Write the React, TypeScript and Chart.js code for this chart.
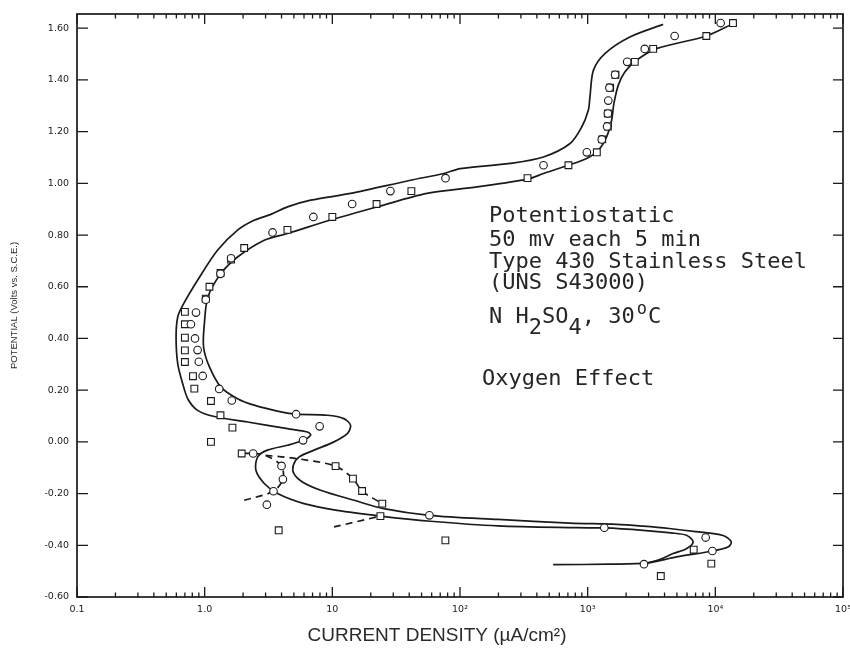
import React, { useEffect, useRef } from 'react';
import { Chart, registerables } from 'chart.js';

Chart.register(...registerables);

// ---------------- DATA (current density µA/cm², potential V vs S.C.E.) ----------------
const CIRCLE_I = [11000, 4800, 2800, 2040, 1640, 1480, 1450, 1440, 1420, 1290, 985, 451, 77, 28.5, 14.3, 7.1, 3.4, 1.61, 1.33, 1.02, 0.855, 0.78, 0.84, 0.88, 0.9, 0.965, 1.3, 1.63, 5.2, 7.95, 5.9, 2.4, 4.0, 4.1, 3.46, 3.07, 57.6, 1350, 8400, 9480, 2760];
const CIRCLE_E = [1.62, 1.57, 1.52, 1.47, 1.42, 1.37, 1.32, 1.27, 1.22, 1.17, 1.12, 1.07, 1.02, 0.97, 0.92, 0.87, 0.81, 0.71, 0.65, 0.55, 0.5, 0.455, 0.4, 0.355, 0.31, 0.255, 0.205, 0.16, 0.107, 0.06, 0.006, -0.045, -0.093, -0.145, -0.191, -0.243, -0.284, -0.332, -0.37, -0.422, -0.473];

const SQUARE_I = [13750, 8500, 3260, 2340, 1650, 1500, 1440, 1440, 1300, 1180, 707, 338, 41.6, 22.2, 10, 4.45, 2.04, 1.61, 1.33, 1.09, 1.02, 0.7, 0.7, 0.7, 0.7, 0.7, 0.81, 0.83, 1.12, 1.33, 1.65, 1.12, 1.95, 10.6, 14.5, 17.1, 24.6, 23.8, 3.8, 76.8, 6770, 9300, 3740];
const SQUARE_E = [1.62, 1.57, 1.52, 1.47, 1.42, 1.37, 1.27, 1.22, 1.17, 1.12, 1.07, 1.02, 0.97, 0.92, 0.87, 0.82, 0.75, 0.705, 0.653, 0.6, 0.554, 0.503, 0.455, 0.403, 0.354, 0.309, 0.254, 0.206, 0.158, 0.103, 0.055, 0.0, -0.045, -0.094, -0.142, -0.19, -0.239, -0.287, -0.342, -0.381, -0.417, -0.471, -0.519];

const CURVE_A_I = [3900, 2140, 1365, 1110, 1042, 1012, 898, 728, 451, 247, 100.5, 74.6, 40.9, 13.9, 6.77, 4.45, 3.3, 2.44, 1.81, 1.26, 0.88, 0.673, 0.615, 0.597, 0.615, 0.673, 0.74, 0.88, 1.19, 2.17, 4.45, 6.38, 6.77, 5.9, 4.45, 3.1, 2.6, 2.52, 2.93, 3.72, 6.0, 10.9, 23.8, 58.6, 198, 820, 1350, 2720, 4500, 5930, 6700, 5930, 4670, 3670, 2980];
const CURVE_A_E = [1.615, 1.566, 1.502, 1.438, 1.334, 1.283, 1.218, 1.154, 1.102, 1.077, 1.057, 1.038, 1.012, 0.961, 0.935, 0.909, 0.88, 0.857, 0.819, 0.741, 0.625, 0.528, 0.483, 0.406, 0.303, 0.225, 0.165, 0.122, 0.098, 0.077, 0.051, 0.038, 0.026, 0.006, -0.013, -0.032, -0.058, -0.11, -0.161, -0.2, -0.239, -0.265, -0.287, -0.307, -0.325, -0.332, -0.333, -0.342, -0.352, -0.361, -0.387, -0.413, -0.432, -0.455, -0.468];

const CURVE_B_I = [14100, 8500, 3460, 2415, 1955, 1738, 1606, 1540, 1407, 1212, 982, 707, 451, 338, 136, 55.2, 22.5, 10, 4.45, 2.93, 1.81, 1.34, 1.06, 0.995, 0.98, 1.09, 1.34, 1.81, 2.44, 3.95, 5.2, 9.14, 12.3, 13.9, 13.1, 10.3, 7.2, 5.5, 4.95, 5.0, 5.83, 8.1, 14.8, 25.3, 57.6, 198, 725, 1687, 2720, 4360, 7000, 11500, 13330, 12560, 9590, 4960, 2980, 1494, 537];
const CURVE_B_E = [1.62, 1.57, 1.521, 1.476, 1.431, 1.38, 1.309, 1.244, 1.18, 1.128, 1.096, 1.07, 1.038, 1.016, 0.986, 0.961, 0.909, 0.86, 0.806, 0.78, 0.715, 0.651, 0.56, 0.458, 0.367, 0.29, 0.212, 0.167, 0.142, 0.116, 0.107, 0.103, 0.09, 0.064, 0.032, 0.0, -0.032, -0.058, -0.09, -0.123, -0.155, -0.187, -0.226, -0.258, -0.284, -0.3, -0.314, -0.319, -0.326, -0.335, -0.347, -0.362, -0.387, -0.407, -0.422, -0.445, -0.468, -0.473, -0.475];

const DASH1_I = [2.04, 3.46, 4.1, 4.0, 3.0, 2.4, 1.95];
const DASH1_E = [-0.226, -0.191, -0.145, -0.093, -0.052, -0.045, -0.045];
const DASH2_I = [3.0, 5.33, 10.6, 14.5, 17.1, 24.6];
const DASH2_E = [-0.052, -0.065, -0.094, -0.142, -0.19, -0.239];
const DASH3_I = [10.3, 23.8];
const DASH3_E = [-0.329, -0.287];

const X_TICKS = [0.1, 1, 10, 100, 1000, 10000, 100000];
const X_LABELS = ['0.1', '1.0', '10', '10²', '10³', '10⁴', '10⁵'];
const Y_TICKS = [-0.6, -0.4, -0.2, 0, 0.2, 0.4, 0.6, 0.8, 1.0, 1.2, 1.4, 1.6];
const X_MIN = 0.1;
const X_MAX = 100000;
const Y_MIN = -0.6;
const Y_MAX = 1.655;

const X_TITLE = 'CURRENT DENSITY (µA/cm²)';
const Y_TITLE = 'POTENTIAL (Volts vs. S.C.E.)';
const NOTE_LINES = ['Potentiostatic', '50 mv each 5 min', 'Type 430 Stainless Steel', '(UNS S43000)'];
const NOTE_CHEM = [
  { t: 'N H', s: 0 },
  { t: '2', s: 1 },
  { t: 'SO', s: 0 },
  { t: '4', s: 1 },
  { t: ', 30', s: 0 },
  { t: 'o', s: -1 },
  { t: 'C', s: 0 },
];
const NOTE_EFFECT = 'Oxygen Effect';

// ---------------- helpers ----------------
const INK = '#1a1a1a';
const pts = (xs: number[], ys: number[]) => xs.map((x, i) => ({ x, y: ys[i] }));

const lineSet = (xs: number[], ys: number[], dashed = false) => ({
  data: pts(xs, ys),
  showLine: true,
  borderColor: INK,
  borderWidth: 1.7,
  borderDash: dashed ? [7, 5] : [],
  pointRadius: 0,
  tension: 0.3,
  fill: false,
});

const frameAndNotes = {
  id: 'frameAndNotes',
  afterDatasetsDraw(chart: any) {
    const { ctx, chartArea: a, scales } = chart;
    const xs = scales.x;
    const ys = scales.y;
    ctx.save();
    ctx.strokeStyle = INK;
    ctx.lineWidth = 1.7;
    ctx.strokeRect(a.left, a.top, a.right - a.left, a.bottom - a.top);
    ctx.lineWidth = 1.3;
    ctx.beginPath();
    for (let i = 0; i < X_TICKS.length; i++) {
      const dec = X_TICKS[i];
      const maxM = i === X_TICKS.length - 1 ? 1 : 9;
      for (let m = 1; m <= maxM; m++) {
        const px = xs.getPixelForValue(dec * m);
        const len = m === 1 ? 10 : 4.5;
        ctx.moveTo(px, a.bottom);
        ctx.lineTo(px, a.bottom - len);
        ctx.moveTo(px, a.top);
        ctx.lineTo(px, a.top + len);
      }
    }
    Y_TICKS.forEach((v) => {
      const py = ys.getPixelForValue(v);
      ctx.moveTo(a.left, py);
      ctx.lineTo(a.left + 11, py);
      ctx.moveTo(a.right, py);
      ctx.lineTo(a.right - 10, py);
    });
    ctx.stroke();
    ctx.restore();
  },
  afterDraw(chart: any) {
    const { ctx } = chart;
    ctx.save();
    ctx.fillStyle = '#262626';
    ctx.textAlign = 'left';
    ctx.textBaseline = 'alphabetic';
    ctx.font = '22px "DejaVu Sans Mono"';
    const baselines = [222, 246, 268, 289];
    NOTE_LINES.forEach((t, i) => ctx.fillText(t, 489, baselines[i]));
    const pitch = ctx.measureText('M').width;
    let cx = 489;
    NOTE_CHEM.forEach((seg) => {
      for (const ch of seg.t) {
        if (seg.s === -1) {
          ctx.font = '17px "DejaVu Sans Mono"';
          ctx.fillText(ch, cx + 2, 323 - 9);
          ctx.font = '22px "DejaVu Sans Mono"';
        } else {
          ctx.fillText(ch, cx, 323 + (seg.s === 1 ? 10.5 : 0));
        }
        cx += pitch;
      }
    });
    ctx.fillText(NOTE_EFFECT, 482, 385);
    // x-axis title
    ctx.font = '19px "Liberation Sans", Arial, sans-serif';
    ctx.textAlign = 'center';
    ctx.fillStyle = '#2a2a2a';
    ctx.fillText(X_TITLE, 437, 641);
    ctx.restore();
  },
};

export default function App() {
  const ref = useRef<HTMLCanvasElement>(null);
  useEffect(() => {
    if (!ref.current) return;
    const tickFont = { family: '"DejaVu Sans", sans-serif', size: 9.5 };
    const chart = new Chart(ref.current, {
      type: 'scatter',
      data: {
        datasets: [
          {
            label: 'circles',
            data: pts(CIRCLE_I, CIRCLE_E),
            pointStyle: 'circle',
            pointRadius: 3.8,
            pointBorderWidth: 1.1,
            pointBorderColor: INK,
            pointBackgroundColor: '#ffffff',
            showLine: false,
          },
          {
            label: 'squares',
            data: pts(SQUARE_I, SQUARE_E),
            pointStyle: 'rect',
            pointRadius: 4.8,
            pointBorderWidth: 1.1,
            pointBorderColor: INK,
            pointBackgroundColor: '#ffffff',
            showLine: false,
          },
          { label: 'curve A', ...lineSet(CURVE_A_I, CURVE_A_E) },
          { label: 'curve B', ...lineSet(CURVE_B_I, CURVE_B_E) },
          { label: 'dash 1', ...lineSet(DASH1_I, DASH1_E, true) },
          { label: 'dash 2', ...lineSet(DASH2_I, DASH2_E, true) },
          { label: 'dash 3', ...lineSet(DASH3_I, DASH3_E, true) },
        ] as any,
      },
      options: {
        responsive: false,
        animation: false,
        events: [],
        layout: { padding: { top: 14, right: 7, left: 0, bottom: 0 } },
        plugins: { legend: { display: false }, tooltip: { enabled: false } },
        scales: {
          x: {
            type: 'logarithmic',
            min: X_MIN,
            max: X_MAX,
            grid: { display: false, drawTicks: false },
            border: { display: false },
            afterBuildTicks: (s: any) => {
              s.ticks = X_TICKS.map((value) => ({ value }));
            },
            afterFit: (s: any) => {
              s.height = 51;
              s.paddingLeft = 0;
              s.paddingRight = 0;
            },
            ticks: {
              autoSkip: false,
              maxRotation: 0,
              padding: 7,
              color: INK,
              font: tickFont,
              callback: (_v: any, i: number) => X_LABELS[i],
            },
          },
          y: {
            type: 'linear',
            min: Y_MIN,
            max: Y_MAX,
            grid: { display: false, drawTicks: false },
            border: { display: false },
            afterBuildTicks: (s: any) => {
              s.ticks = Y_TICKS.map((value) => ({ value }));
            },
            afterFit: (s: any) => {
              s.width = 77;
              s.paddingTop = 0;
              s.paddingBottom = 0;
            },
            ticks: {
              autoSkip: false,
              padding: 8,
              color: INK,
              font: tickFont,
              callback: (v: any) => Number(v).toFixed(2),
            },
            title: {
              display: true,
              text: Y_TITLE,
              color: '#2a2a2a',
              font: { family: '"Liberation Sans", Arial, sans-serif', size: 9.5 },
              padding: { top: 9, bottom: 0 },
            },
          },
        },
      } as any,
      plugins: [frameAndNotes],
    });
    return () => chart.destroy();
  }, []);
  return (
    <div style={{ position: 'absolute', left: 0, top: 0, width: 850, height: 648, background: '#ffffff' }}>
      <canvas ref={ref} width={850} height={648} style={{ display: 'block' }} />
    </div>
  );
}
